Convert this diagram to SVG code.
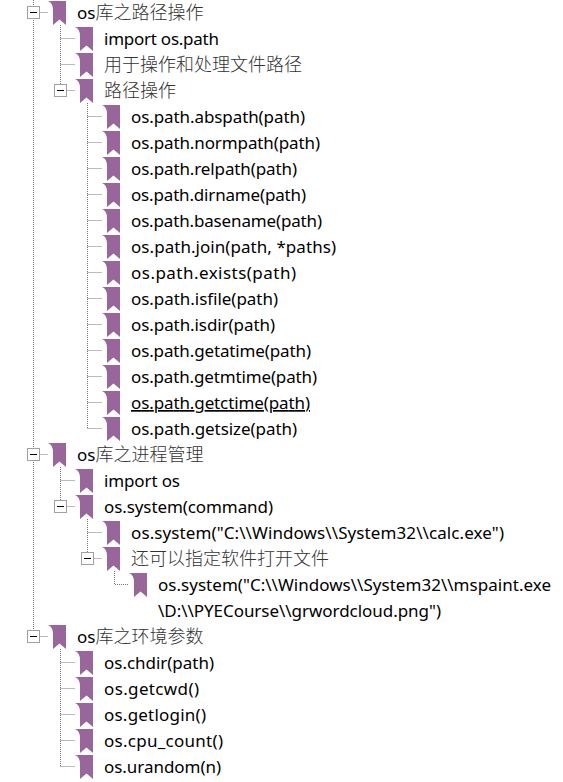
<svg xmlns="http://www.w3.org/2000/svg" width="563" height="782" viewBox="0 0 563 782">
<style>
text{font-family:"Noto Sans","Noto Sans CJK SC",sans-serif;font-size:17px;fill:#000}
.z{font-family:"Noto Sans CJK SC",sans-serif;font-size:18px;font-weight:300;fill:#333}
.c{fill:none;stroke:#777;stroke-width:1;stroke-dasharray:1 1}
.b{fill:#fff;stroke:#a0a0a0;stroke-width:1}
.m{stroke:#000;stroke-width:1}
</style>
<defs>
<path id="i" d="M0 0H18V24L11.500 18.500L5 24V9Q5 2 0 0Z" fill="#98669b"/>
<g id="x"><rect class="b" x="0.500" y="0.500" width="12" height="12"/><path class="m" d="M3 6.500H10"/></g>
</defs>
<rect width="563" height="782" fill="#fff"/>
<g id="connectors">
<path class="c" d="M33.500 0V636M33.500 12.500H48M33.500 454.500H48M33.500 636.500H48"/>
<path class="c" d="M60.500 25V90M60.500 38.500H75M60.500 64.500H75M60.500 90.500H75"/>
<path class="c" d="M87.500 103V428M87.500 116.500H102M87.500 142.500H102M87.500 168.500H102M87.500 194.500H102M87.500 220.500H102M87.500 246.500H102M87.500 272.500H102M87.500 298.500H102M87.500 324.500H102M87.500 350.500H102M87.500 376.500H102M87.500 402.500H102M87.500 428.500H102"/>
<path class="c" d="M60.500 467V506M60.500 480.500H75M60.500 506.500H75"/>
<path class="c" d="M87.500 519V558M87.500 532.500H102M87.500 558.500H102"/>
<path class="c" d="M114.500 571V584.500H129"/>
<path class="c" d="M60.500 649V766M60.500 662.500H75M60.500 688.500H75M60.500 714.500H75M60.500 740.500H75M60.500 766.500H75"/>
</g>
<g id="n1"><use href="#x" x="27" y="6"/><use href="#i" x="48" y="1"/><text x="77" y="19">os<tspan class="z">库之路径操作</tspan></text></g>
<g id="n2"><use href="#i" x="75" y="27"/><text x="104" y="45" textLength="115">import os.path</text></g>
<g id="n3"><use href="#i" x="75" y="53"/><text class="z" x="104" y="71">用于操作和处理文件路径</text></g>
<g id="n4"><use href="#x" x="54" y="84"/><use href="#i" x="75" y="79"/><text class="z" x="104" y="97">路径操作</text></g>
<g id="n5"><use href="#i" x="102" y="105"/><text x="131" y="123" textLength="174">os.path.abspath(path)</text></g>
<g id="n6"><use href="#i" x="102" y="131"/><text x="131" y="149" textLength="189">os.path.normpath(path)</text></g>
<g id="n7"><use href="#i" x="102" y="157"/><text x="131" y="175" textLength="166">os.path.relpath(path)</text></g>
<g id="n8"><use href="#i" x="102" y="183"/><text x="131" y="201" textLength="175">os.path.dirname(path)</text></g>
<g id="n9"><use href="#i" x="102" y="209"/><text x="131" y="227" textLength="191">os.path.basename(path)</text></g>
<g id="n10"><use href="#i" x="102" y="235"/><text x="131" y="253" textLength="205">os.path.join(path, *paths)</text></g>
<g id="n11"><use href="#i" x="102" y="261"/><text x="131" y="279" textLength="165">os.path.exists(path)</text></g>
<g id="n12"><use href="#i" x="102" y="287"/><text x="131" y="305" textLength="147">os.path.isfile(path)</text></g>
<g id="n13"><use href="#i" x="102" y="313"/><text x="131" y="331" textLength="144">os.path.isdir(path)</text></g>
<g id="n14"><use href="#i" x="102" y="339"/><text x="131" y="357" textLength="180">os.path.getatime(path)</text></g>
<g id="n15"><use href="#i" x="102" y="365"/><text x="131" y="383" textLength="186">os.path.getmtime(path)</text></g>
<g id="n16"><use href="#i" x="102" y="391"/><text x="131" y="409" textLength="179" text-decoration="underline">os.path.getctime(path)</text></g>
<g id="n17"><use href="#i" x="102" y="417"/><text x="131" y="435" textLength="166">os.path.getsize(path)</text></g>
<g id="n18"><use href="#x" x="27" y="448"/><use href="#i" x="48" y="443"/><text x="77" y="461">os<tspan class="z">库之进程管理</tspan></text></g>
<g id="n19"><use href="#i" x="75" y="469"/><text x="104" y="487" textLength="76">import os</text></g>
<g id="n20"><use href="#x" x="54" y="500"/><use href="#i" x="75" y="495"/><text x="104" y="513" textLength="169">os.system(command)</text></g>
<g id="n21"><use href="#i" x="102" y="521"/><text x="131" y="539" textLength="373">os.system("C:\\Windows\\System32\\calc.exe")</text></g>
<g id="n22"><use href="#x" x="81" y="552"/><use href="#i" x="102" y="547"/><text class="z" x="131" y="565">还可以指定软件打开文件</text></g>
<g id="n23"><use href="#i" x="129" y="573"/><text x="158" y="591" textLength="393">os.system("C:\\Windows\\System32\\mspaint.exe</text><text x="158" y="617" textLength="283">\D:\\PYECourse\\grwordcloud.png")</text></g>
<g id="n24"><use href="#x" x="27" y="630"/><use href="#i" x="48" y="625"/><text x="77" y="643">os<tspan class="z">库之环境参数</tspan></text></g>
<g id="n25"><use href="#i" x="75" y="651"/><text x="104" y="669" textLength="110">os.chdir(path)</text></g>
<g id="n26"><use href="#i" x="75" y="677"/><text x="104" y="695" textLength="95">os.getcwd()</text></g>
<g id="n27"><use href="#i" x="75" y="703"/><text x="104" y="721" textLength="102">os.getlogin()</text></g>
<g id="n28"><use href="#i" x="75" y="729"/><text x="104" y="747" textLength="119">os.cpu_count()</text></g>
<g id="n29"><use href="#i" x="75" y="755"/><text x="104" y="773" textLength="117">os.urandom(n)</text></g>
</svg>
